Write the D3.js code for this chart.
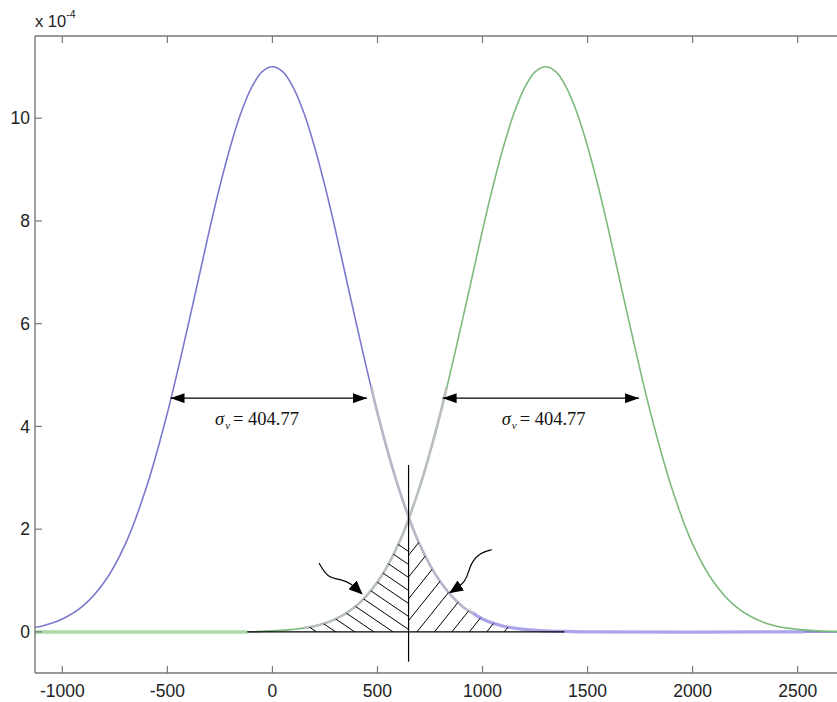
<!DOCTYPE html>
<html>
<head>
<meta charset="utf-8">
<script src="https://cdn.jsdelivr.net/npm/d3@7"></script>
<style>
  html, body { margin: 0; padding: 0; background: #fff; }
  svg { display: block; }
</style>
</head>
<body>
<svg id="chart" width="837" height="702"></svg>
<script>
// ---------------- data (values in units of 1e-4) ----------------
const xTicks = [-1000, -500, 0, 500, 1000, 1500, 2000, 2500];
const yTicks = [0, 2, 4, 6, 8, 10];
const yExponentLabel = "-4";

const blueX = [-1130, -1100, -1000, -900, -800, -700, -600, -500, -400, -300, -250, -200, -150, -100, -50, 0,
               50, 100, 150, 200, 250, 300, 400, 500, 600, 700, 800, 900, 1000, 1100, 1200, 1300, 1400, 1500, 2700];
const blueY = [0.09, 0.11, 0.25, 0.51, 0.97, 1.71, 2.81, 4.26, 5.99, 7.82, 8.68, 9.45, 10.10, 10.59, 10.90, 11.0,
               10.90, 10.59, 10.10, 9.45, 8.68, 7.82, 5.99, 4.26, 2.81, 1.71, 0.97, 0.51, 0.25, 0.11, 0.05, 0.02, 0.01, 0, 0];

const greenX = [-1130, -100, 0, 100, 200, 300, 400, 500, 600, 700, 800, 900, 1000, 1050, 1100, 1150, 1200, 1250, 1300,
                1350, 1400, 1450, 1500, 1550, 1600, 1700, 1800, 1900, 2000, 2100, 2200, 2300, 2400, 2500, 2600, 2700];
const greenY = [0, 0, 0.02, 0.05, 0.11, 0.25, 0.51, 0.97, 1.71, 2.81, 4.26, 5.99, 7.82, 8.68, 9.45, 10.10, 10.59, 10.90, 11.0,
                10.90, 10.59, 10.10, 9.45, 8.68, 7.82, 5.99, 4.26, 2.81, 1.71, 0.97, 0.51, 0.25, 0.11, 0.05, 0.02, 0.01];

const sigmaLabel = "404.77";
const dividerX = 648;
const baselineRange = [-120, 1390];
const leftHatch = [210, 301, 392, 483, 574, 665, 756, 847, 938, 1029, 1120, 1211];
const rightHatch = [356, 439, 522, 605, 688, 771, 854, 937, 1020, 1103];

// ---------------- layout ----------------
const W = 837, H = 702;
const mLeft = 35, mTop = 36, mBottom = 673, mRight = 839.7;
const svg = d3.select("#chart");

const x = d3.scaleLinear().domain([-1130, 2700]).range([mLeft, mRight]);
const y = d3.scaleLinear().domain([-0.8, 11.6]).range([mBottom, mTop]);

const blue = blueX.map((v, i) => [v, blueY[i]]);
const green = greenX.map((v, i) => [v, greenY[i]]);

const line = d3.line().x(d => x(d[0])).y(d => y(d[1])).curve(d3.curveCatmullRom.alpha(0.5));

function valueAt(series, xv) {
  for (let i = 0; i < series.length - 1; i++) {
    const a = series[i], b = series[i + 1];
    if (xv >= a[0] && xv <= b[0]) {
      const t = (xv - a[0]) / (b[0] - a[0]);
      return a[1] + t * (b[1] - a[1]);
    }
  }
  return 0;
}
function segment(series, x0, x1) {
  const pts = [[x0, valueAt(series, x0)]];
  series.forEach(p => { if (p[0] > x0 && p[0] < x1) pts.push(p); });
  pts.push([x1, valueAt(series, x1)]);
  return pts;
}

const defs = svg.append("defs");
defs.append("clipPath").attr("id", "plotClip")
  .append("rect").attr("x", mLeft).attr("y", mTop).attr("width", mRight - mLeft).attr("height", mBottom - mTop);

defs.append("marker").attr("id", "head").attr("viewBox", "0 0 14 10")
  .attr("refX", 14).attr("refY", 5).attr("markerWidth", 14).attr("markerHeight", 10)
  .attr("markerUnits", "userSpaceOnUse").attr("orient", "auto-start-reverse")
  .append("path").attr("d", "M0,0 L14,5 L0,10 Z").attr("fill", "#000");
defs.append("marker").attr("id", "curlHead").attr("viewBox", "0 0 14 12")
  .attr("refX", 13).attr("refY", 6).attr("markerWidth", 14).attr("markerHeight", 12)
  .attr("markerUnits", "userSpaceOnUse").attr("orient", "auto")
  .append("path").attr("d", "M0,0 L14,6 L0,12 Z").attr("fill", "#000");

const g = svg.append("g").attr("clip-path", "url(#plotClip)");

g.append("path").attr("d", line(blue)).attr("fill", "none")
  .attr("stroke", "#7b79cc").attr("stroke-width", 1.6);
g.append("path").attr("d", line(segment(blue, 950, 2530))).attr("fill", "none")
  .attr("stroke", "#aaa5e8").attr("stroke-width", 3.2);
g.append("path").attr("d", line(segment(green, baselineRange[0], 2700))).attr("fill", "none")
  .attr("stroke", "#7dba7d").attr("stroke-width", 1.6);
g.append("path").attr("d", line(segment(green, -1130, baselineRange[0])))
  .attr("fill", "none").attr("stroke", "#a8dba8").attr("stroke-width", 3.5);

g.append("path").attr("d", line(segment(blue, 470, 960))).attr("fill", "none")
  .attr("stroke", "#b8b6c8").attr("stroke-width", 2.6);
g.append("path").attr("d", line(segment(green, 150, 830))).attr("fill", "none")
  .attr("stroke", "#b8c0b8").attr("stroke-width", 2.6);

const area = d3.area().x(d => x(d[0])).y0(y(0)).y1(d => y(d[1])).curve(d3.curveCatmullRom.alpha(0.5));
defs.append("clipPath").attr("id", "hatchL")
  .append("path").attr("d", area(segment(green, baselineRange[0], dividerX)));
defs.append("clipPath").attr("id", "hatchR")
  .append("path").attr("d", area(segment(blue, dividerX, baselineRange[1])));

const L = 200;
svg.append("g").attr("clip-path", "url(#hatchL)").selectAll("line").data(leftHatch).join("line")
  .attr("x1", d => x(d)).attr("y1", y(0))
  .attr("x2", d => x(d) - L).attr("y2", y(0) - L * 0.68)
  .attr("stroke", "#000").attr("stroke-width", 1);
svg.append("g").attr("clip-path", "url(#hatchR)").selectAll("line").data(rightHatch).join("line")
  .attr("x1", d => x(d)).attr("y1", y(0))
  .attr("x2", d => x(d) + L).attr("y2", y(0) - L * 1.25)
  .attr("stroke", "#000").attr("stroke-width", 1);

svg.append("line").attr("x1", x(baselineRange[0])).attr("x2", x(baselineRange[1]))
  .attr("y1", y(0)).attr("y2", y(0)).attr("stroke", "#000").attr("stroke-width", 1.3);

svg.append("line").attr("x1", x(dividerX)).attr("x2", x(dividerX))
  .attr("y1", y(3.25)).attr("y2", y(-0.58)).attr("stroke", "#000").attr("stroke-width", 1.2);

const sigmaArrows = [[-485, 450], [810, 1745]];
const arrowY = 4.55;
svg.selectAll(".sig").data(sigmaArrows).join("line").attr("class", "sig")
  .attr("x1", d => x(d[0])).attr("x2", d => x(d[1]))
  .attr("y1", y(arrowY)).attr("y2", y(arrowY))
  .attr("stroke", "#000").attr("stroke-width", 1.2)
  .attr("marker-start", "url(#head)").attr("marker-end", "url(#head)");

const sigmaTextX = [-273, 1091];
sigmaTextX.forEach(tx => {
  const t = svg.append("text").attr("x", x(tx)).attr("y", y(4.03))
    .attr("font-family", "'Liberation Serif', 'Times New Roman', serif")
    .attr("font-size", 18.5).attr("fill", "#111");
  t.append("tspan").attr("font-style", "italic").text("σ");
  t.append("tspan").attr("font-style", "italic").attr("font-size", 11).attr("dy", 4).attr("dx", 1).text("v");
  t.append("tspan").attr("dy", -4).attr("dx", 3).text("= " + sigmaLabel);
});

const curlLeft = [[222, 1.34], [262, 1.05], [330, 1.02], [372, 0.95], [426, 0.74]];
const curlRight = [[1044, 1.60], [975, 1.52], [935, 1.25], [925, 0.98], [845, 0.765]];
const curl = d3.line().x(d => x(d[0])).y(d => y(d[1])).curve(d3.curveBasis);
[curlLeft, curlRight].forEach(c => {
  svg.append("path").attr("d", curl(c)).attr("fill", "none")
    .attr("stroke", "#000").attr("stroke-width", 1.2).attr("marker-end", "url(#curlHead)");
});

const axisColor = "#777";
svg.append("line").attr("x1", mLeft).attr("x2", mLeft).attr("y1", mTop).attr("y2", mBottom)
  .attr("stroke", axisColor).attr("stroke-width", 1.4);
svg.append("line").attr("x1", mLeft).attr("x2", W).attr("y1", mBottom).attr("y2", mBottom)
  .attr("stroke", axisColor).attr("stroke-width", 1.4);
svg.append("line").attr("x1", mLeft).attr("x2", W).attr("y1", mTop).attr("y2", mTop)
  .attr("stroke", axisColor).attr("stroke-width", 1.4);

const tickLen = 7;
svg.selectAll(".xtb").data(xTicks).join("line").attr("class", "xtb")
  .attr("x1", d => x(d)).attr("x2", d => x(d)).attr("y1", mBottom).attr("y2", mBottom - tickLen)
  .attr("stroke", axisColor).attr("stroke-width", 1.2);
svg.selectAll(".xtt").data(xTicks).join("line").attr("class", "xtt")
  .attr("x1", d => x(d)).attr("x2", d => x(d)).attr("y1", mTop).attr("y2", mTop + tickLen)
  .attr("stroke", axisColor).attr("stroke-width", 1.2);
svg.selectAll(".ytl").data(yTicks).join("line").attr("class", "ytl")
  .attr("x1", mLeft).attr("x2", mLeft + tickLen).attr("y1", d => y(d)).attr("y2", d => y(d))
  .attr("stroke", axisColor).attr("stroke-width", 1.2);

const font = "'Liberation Sans', Arial, sans-serif";
svg.selectAll(".xl").data(xTicks).join("text").attr("class", "xl")
  .attr("x", d => x(d)).attr("y", 697).attr("text-anchor", "middle")
  .attr("font-family", font).attr("font-size", 17.5).attr("fill", "#222").text(d => d);
svg.selectAll(".yl").data(yTicks).join("text").attr("class", "yl")
  .attr("x", 30).attr("y", d => y(d)).attr("dy", "0.36em").attr("text-anchor", "end")
  .attr("font-family", font).attr("font-size", 17.5).attr("fill", "#222").text(d => d);

const ex = svg.append("text").attr("x", 35).attr("y", 27)
  .attr("font-family", font).attr("font-size", 16.5).attr("fill", "#222");
ex.append("tspan").text("x 10");
ex.append("tspan").attr("font-size", 10.5).attr("dy", -9).text(yExponentLabel);
</script>
</body>
</html>
